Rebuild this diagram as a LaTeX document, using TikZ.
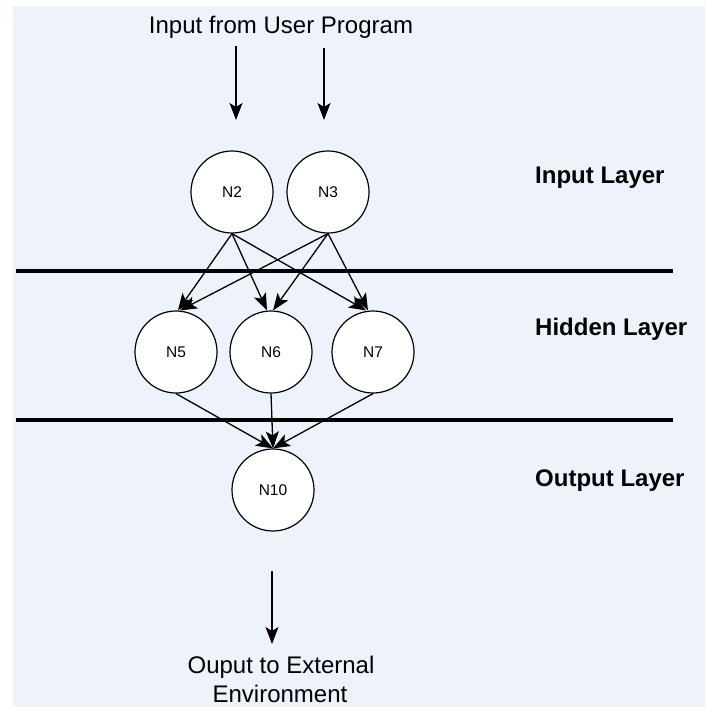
\documentclass[tikz,border=0pt]{standalone}
\usepackage{fontspec}
\setmainfont{Liberation Sans}
\usetikzlibrary{arrows.meta}
\definecolor{bgblue}{RGB}{237,242,251}
\tikzset{
  neuron/.style={circle, draw=black, line width=1.2pt, fill=white, minimum size=82pt, inner sep=0pt, font=\fontsize{15.5}{18}\selectfont},
  conn/.style={line width=1.3pt, -{Stealth[length=17pt,width=13pt,inset=4pt]}},
  layerline/.style={line width=4.5pt},
  plain/.style={font=\fontsize{24}{28}\selectfont, inner sep=0pt, anchor=base},
  layerlabel/.style={font=\fontsize{24}{28}\selectfont\bfseries, inner sep=0pt, anchor=base west}
}
\begin{document}
\begin{tikzpicture}[x=1pt,y=-1pt]
\useasboundingbox (0,0) rectangle (705,707);
\fill[white] (0,0) rectangle (705,707);
\fill[bgblue] (13,6) rectangle (705,707);

% title and input arrows
\node[plain] (title) at (281,33) {Input from User Program};
\coordinate (a1s) at (236,46);
\coordinate (a1e) at (236,120);
\coordinate (a2s) at (324,48);
\coordinate (a2e) at (324,120);
\draw[conn] (a1s) -- (a1e);
\draw[conn] (a2s) -- (a2e);

% layer separator lines
\coordinate (l1a) at (16,271);
\coordinate (l1b) at (673,271);
\coordinate (l2a) at (16,420);
\coordinate (l2b) at (673,420);
\draw[layerline] (l1a) -- (l1b);
\draw[layerline] (l2a) -- (l2b);

% neurons
\node[neuron] (n2) at (232,192) {N2};
\node[neuron] (n3) at (328,192) {N3};
\node[neuron] (n5) at (176,352) {N5};
\node[neuron] (n6) at (271,352) {N6};
\node[neuron] (n7) at (373,352) {N7};
\node[neuron] (n10) at (273,490) {N10};

% connections input -> hidden
\draw[conn] (n2.south) -- ([xshift=2pt]n5.north);
\draw[conn] (n2.south) -- ([xshift=-4pt]n6.north);
\draw[conn] (n2.south) -- ([xshift=-7pt]n7.north);
\draw[conn] (n3.south) -- ([xshift=4pt]n5.north);
\draw[conn] (n3.south) -- ([xshift=2pt]n6.north);
\draw[conn] (n3.south) -- ([xshift=-5pt]n7.north);

% hidden -> output
\draw[conn] (n5.south) -- (n10.north);
\draw[conn] (n6.south) -- (n10.north);
\draw[conn] (n7.south) -- (n10.north);

% output arrow
\coordinate (o1) at (272,571);
\coordinate (o2) at (272,644);
\draw[conn] (o1) -- (o2);
\node[plain] (out1) at (281,673) {Ouput to External};
\node[plain] (out2) at (280,702) {Environment};

% layer labels
\node[layerlabel] (lin) at (535,183) {Input Layer};
\node[layerlabel] (lhid) at (535,335) {Hidden Layer};
\node[layerlabel] (lout) at (535,486) {Output Layer};
\end{tikzpicture}
\end{document}
